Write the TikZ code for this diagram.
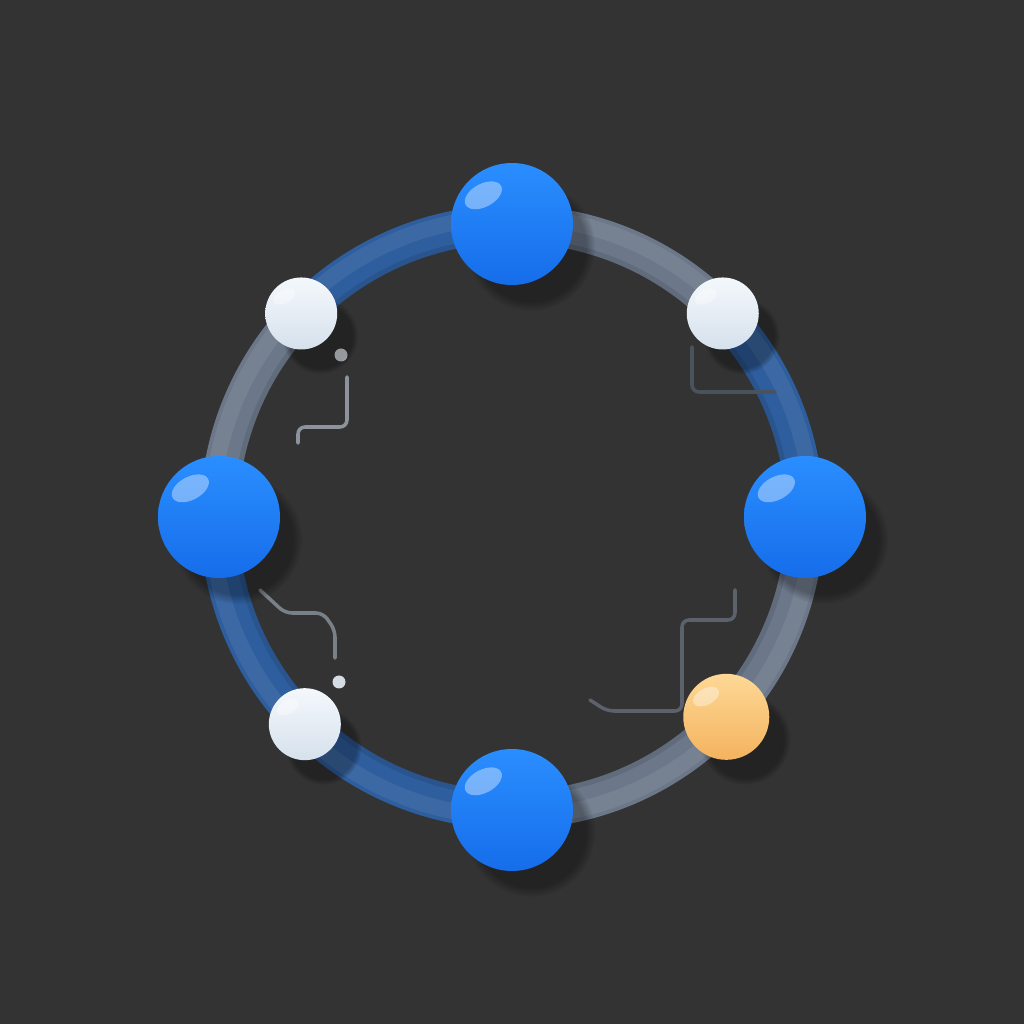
\documentclass[tikz,border=0pt]{standalone}
\usetikzlibrary{calc,shadows}

\definecolor{bgdark}{HTML}{333333}
\definecolor{bandblue}{HTML}{2E5E9E}
\definecolor{bandgray}{HTML}{6C788A}
\definecolor{balltop}{HTML}{2A8EFF}
\definecolor{ballbot}{HTML}{166DEA}
\definecolor{pearltop}{HTML}{F4F8FC}
\definecolor{pearlbot}{HTML}{D6E1EC}
\definecolor{ambertop}{HTML}{FDD896}
\definecolor{amberbot}{HTML}{F4B35E}
\definecolor{tracegray}{HTML}{8C939C}
\definecolor{tracedim}{HTML}{4A525D}
\definecolor{tracemid}{HTML}{5B626C}
\definecolor{dotlight}{HTML}{D6DCE3}

\pgfdeclarelayer{paper}
\pgfdeclarelayer{ring}
\pgfsetlayers{paper,ring,main}

\begin{document}
\begin{tikzpicture}[
    ball/.style={circle, inner sep=0pt, draw=none, shading angle=20,
      circular drop shadow={shadow xshift=5pt, shadow yshift=-6pt, shadow scale=1.06, opacity=.3, fill=black}},
    blueball/.style={ball, minimum size=1.22cm, top color=balltop, bottom color=ballbot},
    pearl/.style={ball, minimum size=0.72cm, top color=pearltop, bottom color=pearlbot},
    amber/.style={ball, minimum size=0.86cm, top color=ambertop, bottom color=amberbot},
    band/.style={line width=0.38cm},
    blueband/.style={band, draw=bandblue},
    grayband/.style={band, draw=bandgray},
    trace/.style={line width=1pt, rounded corners=2pt, line cap=round},
    gloss/.style={fill=white, opacity=.38}
  ]
    \def\ringr{2.93}

    \begin{pgfonlayer}{paper}
        \fill[bgdark] (0,0) rectangle (10.24,10.24);
    \end{pgfonlayer}
    \useasboundingbox (0,0) rectangle (10.24,10.24);

    \coordinate (c) at (5.12,5.07);

    % circuit traces
    \draw[trace, tracegray] (3.47,6.47) -- (3.47,5.97) -- (2.98,5.97) -- (2.98,5.81);
    \fill[dotlight] (3.41,6.69) circle[radius=0.065];
    \draw[trace, tracedim] (6.92,6.77) -- (6.92,6.32) -- (7.75,6.32);
    \draw[trace, tracegray!80!bgdark] (2.60,4.34) -- (2.85,4.11) -- (3.23,4.11) -- (3.35,3.94) -- (3.35,3.66);
    \fill[dotlight] (3.39,3.42) circle[radius=0.065];
    \draw[trace, tracemid] (7.35,4.34) -- (7.35,4.04) -- (6.82,4.04) -- (6.82,3.13) -- (6.07,3.13) -- (5.90,3.24);

    % nodes on the ring
    \node[blueball] (rgt) at ($(c)+(0:\ringr)$) {};
    \node[pearl]    (wtr) at ($(c)+(44:\ringr)$) {};
    \node[blueball] (top) at ($(c)+(90:\ringr)$) {};
    \node[pearl]    (wtl) at ($(c)+(136:\ringr)$) {};
    \node[blueball] (lft) at ($(c)+(180:\ringr)$) {};
    \node[pearl]    (wbl) at ($(c)+(225:\ringr)$) {};
    \node[blueball] (bot) at ($(c)+(270:\ringr)$) {};
    \node[amber]    (org) at ($(c)+(317:\ringr)$) {};

    \foreach \n/\r in {rgt/0.61, top/0.61, lft/0.61, bot/0.61, wtr/0.36, wtl/0.36, wbl/0.36, org/0.43} {
        \coordinate (g) at ($(\n.center)+({-0.47*\r},{0.47*\r})$);
        \fill[gloss, rotate around={28:(g)}] (g) ellipse[x radius={0.33*\r}, y radius={0.19*\r}];
    }

    % ring segments
    \begin{pgfonlayer}{ring}
        \draw[blueband] (rgt.center) arc[start angle=0,end angle=44,radius=\ringr];
        \draw[grayband] (wtr.center) arc[start angle=44,end angle=90,radius=\ringr];
        \draw[blueband] (top.center) arc[start angle=90,end angle=136,radius=\ringr];
        \draw[grayband] (wtl.center) arc[start angle=136,end angle=180,radius=\ringr];
        \draw[blueband] (lft.center) arc[start angle=180,end angle=225,radius=\ringr];
        \draw[blueband] (wbl.center) arc[start angle=225,end angle=270,radius=\ringr];
        \draw[grayband] (bot.center) arc[start angle=270,end angle=317,radius=\ringr];
        \draw[grayband] (org.center) arc[start angle=317,end angle=360,radius=\ringr];
        \draw[white, opacity=.07, line width=0.16cm] (c) circle[radius=\ringr+0.07];
        \draw[black, opacity=.1, line width=0.05cm] (c) circle[radius=\ringr-0.165];
    \end{pgfonlayer}

\end{tikzpicture}
\end{document}
